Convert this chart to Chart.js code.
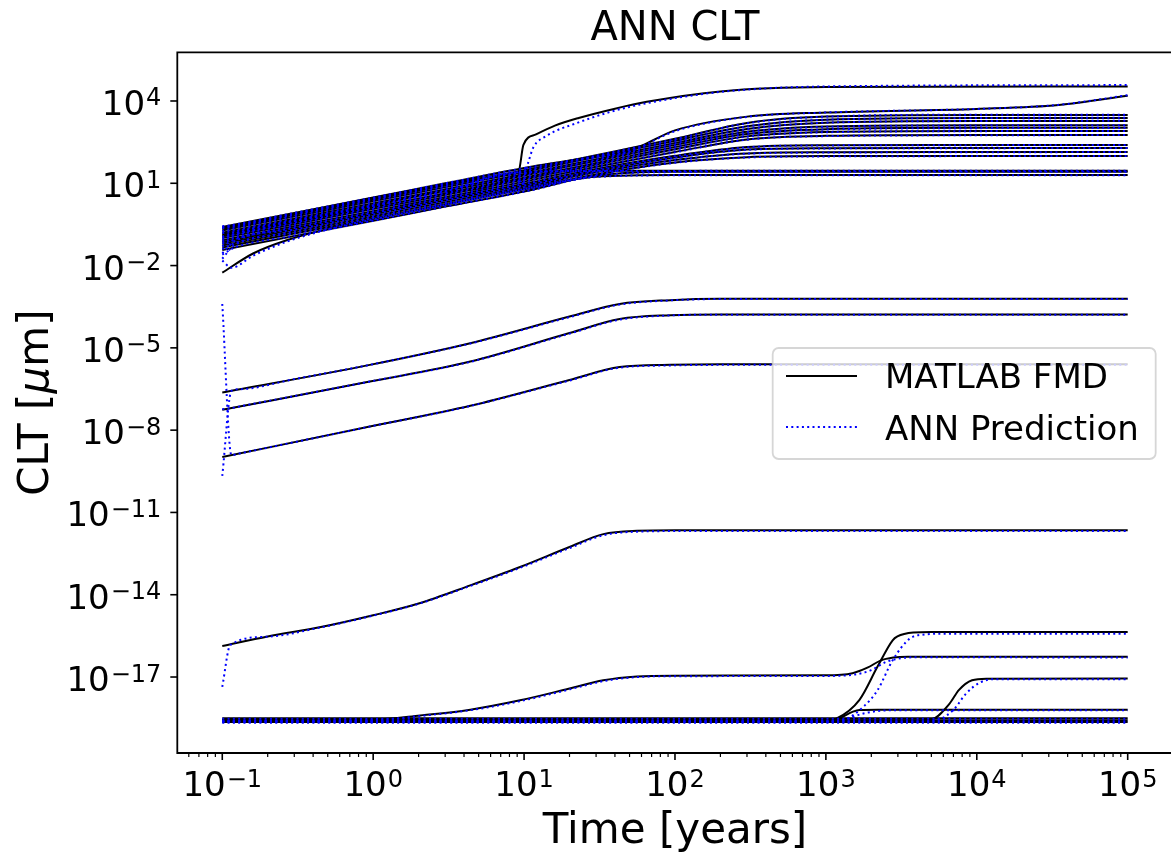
<!DOCTYPE html>
<html>
<head>
<meta charset="utf-8">
<title>ANN CLT</title>
<script src="https://cdn.jsdelivr.net/npm/chart.js@4.4.1/dist/chart.umd.min.js"></script>
<style>
  html, body { margin: 0; padding: 0; background: #fff; }
  #wrap { width: 1171px; height: 855px; }
</style>
</head>
<body>
<div id="wrap"><canvas id="chart"></canvas></div>
<script>
'use strict';

// Axis ticks: powers of ten shown as labels, plus the minor multipliers on the time axis
const xTickExps = [-1, 0, 1, 2, 3, 4, 5];
const xMinorMults = [2, 3, 4, 5, 6, 7, 8, 9];
const yTickExps = [4, 1, -2, -5, -8, -11, -14, -17];

// CLT values are written as log10 exponents (CLT = 10 ** value)

// Upper bundle: times in years
const tTop = [0.1, 0.3, 1, 3, 10, 30, 100, 300, 1000, 1e4, 1e5];
const tTopAnn = [0.1, 0.12, 0.3, 1, 3, 10, 30, 100, 300, 1000, 1e4, 1e5];

const fmdTop1 = [-0.66, -0.15, 0.40, 0.92, 1.48, 2.02, 2.62, 3.20, 3.43, 3.49, 3.49];
const annTop1 = [-0.64, -0.58, -0.14, 0.41, 0.92, 1.47, 2.01, 2.61, 3.19, 3.43, 3.50, 3.50];
const fmdTop2 = [-0.72, -0.21, 0.34, 0.86, 1.42, 1.96, 2.55, 3.08, 3.32, 3.38, 3.38];
const annTop2 = [-0.75, -0.64, -0.21, 0.34, 0.86, 1.41, 1.95, 2.54, 3.07, 3.32, 3.38, 3.39];
const fmdTop3 = [-0.80, -0.29, 0.26, 0.78, 1.34, 1.88, 2.47, 2.98, 3.21, 3.27, 3.27];
const annTop3 = [-0.82, -0.72, -0.29, 0.26, 0.78, 1.33, 1.87, 2.46, 2.97, 3.21, 3.27, 3.28];
const fmdTop4 = [-0.86, -0.35, 0.20, 0.72, 1.28, 1.82, 2.40, 2.88, 3.07, 3.12, 3.12];
const annTop4 = [-0.95, -0.78, -0.35, 0.20, 0.72, 1.27, 1.81, 2.39, 2.87, 3.06, 3.11, 3.12];
const fmdTop5 = [-0.94, -0.43, 0.12, 0.64, 1.20, 1.74, 2.32, 2.80, 2.97, 3.02, 3.02];
const annTop5 = [-0.98, -0.86, -0.43, 0.12, 0.64, 1.19, 1.73, 2.31, 2.79, 2.96, 3.01, 3.02];
const fmdTop6 = [-1.00, -0.49, 0.06, 0.58, 1.14, 1.68, 2.24, 2.71, 2.87, 2.91, 2.91];
const annTop6 = [-1.12, -0.92, -0.49, 0.06, 0.58, 1.13, 1.67, 2.23, 2.70, 2.86, 2.90, 2.91];
const fmdTop7 = [-1.08, -0.57, -0.02, 0.50, 1.06, 1.60, 2.14, 2.60, 2.73, 2.76, 2.76];
const annTop7 = [-1.20, -1.00, -0.57, -0.02, 0.50, 1.05, 1.59, 2.13, 2.59, 2.72, 2.75, 2.76];
const fmdTop8 = [-1.14, -0.63, -0.08, 0.44, 0.98, 1.52, 2.00, 2.32, 2.39, 2.40, 2.40];
const annTop8 = [-1.30, -1.06, -0.63, -0.08, 0.44, 0.97, 1.51, 1.99, 2.31, 2.38, 2.39, 2.40];
const fmdTop9 = [-1.20, -0.69, -0.14, 0.38, 0.92, 1.46, 1.94, 2.23, 2.28, 2.29, 2.29];
const annTop9 = [-1.55, -1.12, -0.69, -0.14, 0.38, 0.91, 1.45, 1.93, 2.22, 2.27, 2.28, 2.29];
const fmdTop10 = [-1.27, -0.76, -0.21, 0.31, 0.86, 1.40, 1.85, 2.09, 2.13, 2.14, 2.14];
const annTop10 = [-1.40, -1.19, -0.76, -0.21, 0.31, 0.85, 1.39, 1.84, 2.08, 2.12, 2.13, 2.14];
const fmdTop11 = [-1.34, -0.83, -0.28, 0.24, 0.78, 1.32, 1.76, 1.95, 1.99, 1.99, 1.99];
const annTop11 = [-1.75, -1.26, -0.83, -0.28, 0.24, 0.77, 1.31, 1.75, 1.94, 1.98, 1.99, 1.99];
const fmdTop12 = [-0.62, -0.11, 0.44, 0.96, 1.40, 1.46, 1.46, 1.46, 1.46, 1.46, 1.46];
const annTop12 = [-0.60, -0.54, -0.11, 0.44, 0.96, 1.39, 1.45, 1.45, 1.46, 1.46, 1.46, 1.46];
const fmdTop13 = [-1.43, -0.92, -0.37, 0.15, 0.70, 1.28, 1.42, 1.42, 1.42, 1.42, 1.42];
const annTop13 = [-1.60, -1.35, -0.92, -0.37, 0.15, 0.69, 1.27, 1.41, 1.42, 1.42, 1.42, 1.42];

// top of the bundle, rising again at the end
const tRise = [0.1, 0.3, 1, 3, 10, 30, 50, 100, 300, 1000, 1e4, 3.5e4, 1e5];
const fmdRise = [-0.59, -0.08, 0.48, 1.00, 1.56, 1.98, 2.18, 2.93, 3.43, 3.58, 3.71, 3.85, 4.19];
const tRiseAnn = [0.1, 0.12, 0.3, 1, 3, 10, 30, 50, 100, 300, 1000, 1e4, 3.5e4, 1e5];
const annRise = [-0.57, -0.51, -0.08, 0.48, 1.00, 1.55, 1.97, 2.16, 2.90, 3.42, 3.58, 3.71, 3.86, 4.21];

// the curve that jumps near 10 years
const tJump = [0.1, 0.3, 1, 3, 9.2, 9.9, 12, 16, 23, 40, 65, 200, 1000, 1e5];
const fmdJump = [-0.90, -0.38, 0.18, 0.70, 1.44, 2.40, 2.78, 3.10, 3.38, 3.72, 3.97, 4.35, 4.51, 4.53];
const tJumpAnn = [0.1, 0.12, 0.3, 1, 3, 9.2, 9.6, 10.7, 11.5, 14, 23, 40, 65, 200, 1000, 1e5];
const annJump = [-1.05, -0.85, -0.38, 0.18, 0.70, 1.40, 0.95, 1.79, 2.30, 2.72, 3.22, 3.65, 3.92, 4.33, 4.53, 4.58];

// the curve that starts low near 1e-2
const tLowStart = [0.1, 0.16, 0.27, 0.54, 1, 3, 10, 30, 100, 1e5];
const fmdLowStart = [-2.26, -1.56, -1.07, -0.62, -0.30, 0.22, 0.80, 1.24, 1.30, 1.30];
const tLowStartAnn = [0.1, 0.115, 0.16, 0.27, 0.54, 1, 3, 10, 30, 100, 1e5];
const annLowStart = [-1.82, -2.08, -1.64, -1.12, -0.64, -0.31, 0.21, 0.79, 1.23, 1.29, 1.29];

// middle group (1e-9 .. 1e-3)
const tMid = [0.1, 0.95, 4.4, 20, 43, 93, 200, 1e5];
const fmdMid1 = [-6.63, -5.62, -4.83, -3.86, -3.40, -3.26, -3.21, -3.21];
const fmdMid2 = [-7.26, -6.23, -5.50, -4.46, -3.95, -3.81, -3.78, -3.78];
const fmdMid3 = [-8.98, -7.87, -7.11, -6.17, -5.70, -5.62, -5.60, -5.60];
const tMidAnn = [0.1, 0.115, 0.13, 0.3, 0.95, 4.4, 20, 43, 93, 200, 1e5];
const annMid1 = [-9.67, -6.57, -6.51, -6.14, -5.62, -4.84, -3.88, -3.42, -3.27, -3.22, -3.22];
const annMid2 = [-7.24, -7.20, -7.14, -6.76, -6.23, -5.51, -4.48, -3.97, -3.82, -3.79, -3.79];
const annMid3 = [-3.40, -8.91, -8.85, -8.44, -7.87, -7.12, -6.19, -5.72, -5.64, -5.62, -5.62];

// lower group
const tD = [0.1, 0.2, 0.45, 1, 2, 4.4, 9.4, 20, 33.5, 56, 100, 1e5];
const fmdD = [-15.87, -15.52, -15.18, -14.75, -14.32, -13.66, -12.99, -12.26, -11.79, -11.67, -11.65, -11.65];
const tDAnn = [0.1, 0.113, 0.2, 0.45, 1, 2, 4.4, 9.4, 20, 33.5, 56, 100, 1e5];
const annD = [-17.36, -15.83, -15.53, -15.19, -14.76, -14.33, -13.68, -13.02, -12.30, -11.83, -11.70, -11.68, -11.68];

const tE = [0.1, 1, 2.05, 4.4, 9.4, 20, 33.5, 56, 100, 1000, 1500, 1900, 2300, 2800, 3500, 1e5];
const fmdE = [-18.58, -18.55, -18.40, -18.19, -17.85, -17.42, -17.12, -16.98, -16.95, -16.94, -16.86, -16.65, -16.40, -16.29, -16.26, -16.26];
const tEAnn = [0.1, 1, 2.05, 4.4, 9.4, 20, 33.5, 56, 100, 1000, 1500, 2000, 2500, 3200, 4000, 1e5];
const annE = [-18.60, -18.57, -18.42, -18.21, -17.88, -17.45, -17.15, -17.00, -16.97, -16.96, -16.92, -16.75, -16.45, -16.31, -16.28, -16.29];

const tF = [0.1, 1000, 1170, 1670, 2200, 2770, 2980, 3800, 5000, 1e5];
const fmdF = [-18.58, -18.58, -18.52, -17.83, -16.62, -15.66, -15.52, -15.38, -15.36, -15.36];
const tFAnn = [0.1, 1000, 1300, 1800, 2200, 2770, 3600, 4500, 6000, 1e5];
const annF = [-18.62, -18.62, -18.57, -18.05, -17.48, -16.39, -15.60, -15.45, -15.42, -15.42];

const tG = [0.1, 1000, 1170, 1500, 1670, 2200, 1e5];
const fmdG = [-18.58, -18.58, -18.55, -18.27, -18.20, -18.19, -18.19];
const tGAnn = [0.1, 1000, 1300, 1800, 2300, 3000, 1e5];
const annG = [-18.62, -18.62, -18.56, -18.32, -18.23, -18.21, -18.21];

const tH = [0.1, 4000, 5000, 6600, 7600, 9300, 11600, 1e5];
const fmdH = [-18.58, -18.58, -18.55, -17.97, -17.48, -17.12, -17.06, -17.05];
const tHAnn = [0.1, 4000, 5500, 7000, 8500, 10500, 13000, 1e5];
const annH = [-18.62, -18.62, -18.56, -18.20, -17.60, -17.20, -17.08, -17.08];

const tFlat = [0.1, 1e5];
const fmdFlat1 = [-18.50, -18.50];
const annFlat1 = [-18.52, -18.52];
const fmdFlat2 = [-18.58, -18.58];
const annFlat2 = [-18.61, -18.61];
const fmdFlat3 = [-18.64, -18.64];
const annFlat3 = [-18.67, -18.67];

// [fmd times, fmd values, ann times, ann values]
const curves = [
  [tRise, fmdRise, tRiseAnn, annRise],
  [tJump, fmdJump, tJumpAnn, annJump],
  [tTop, fmdTop1, tTopAnn, annTop1],
  [tTop, fmdTop2, tTopAnn, annTop2],
  [tTop, fmdTop3, tTopAnn, annTop3],
  [tTop, fmdTop4, tTopAnn, annTop4],
  [tTop, fmdTop5, tTopAnn, annTop5],
  [tTop, fmdTop6, tTopAnn, annTop6],
  [tTop, fmdTop7, tTopAnn, annTop7],
  [tTop, fmdTop8, tTopAnn, annTop8],
  [tTop, fmdTop9, tTopAnn, annTop9],
  [tTop, fmdTop10, tTopAnn, annTop10],
  [tTop, fmdTop11, tTopAnn, annTop11],
  [tTop, fmdTop12, tTopAnn, annTop12],
  [tTop, fmdTop13, tTopAnn, annTop13],
  [tLowStart, fmdLowStart, tLowStartAnn, annLowStart],
  [tMid, fmdMid1, tMidAnn, annMid1],
  [tMid, fmdMid2, tMidAnn, annMid2],
  [tMid, fmdMid3, tMidAnn, annMid3],
  [tD, fmdD, tDAnn, annD],
  [tE, fmdE, tEAnn, annE],
  [tF, fmdF, tFAnn, annF],
  [tG, fmdG, tGAnn, annG],
  [tH, fmdH, tHAnn, annH],
  [tFlat, fmdFlat1, tFlat, annFlat1],
  [tFlat, fmdFlat2, tFlat, annFlat2],
  [tFlat, fmdFlat3, tFlat, annFlat3]
];

const FONT = '"DejaVu Sans", "Liberation Sans", sans-serif';
const FMD_COLOR = '#000000';
const ANN_COLOR = '#0000ff';
const ANN_DASH = [2, 3.3];

function toPoints(times, exps) {
  return times.map((t, i) => ({ x: t, y: Math.pow(10, exps[i]) }));
}

const datasets = [];
curves.forEach(([tf, vf, ta, va], i) => {
  datasets.push({
    label: i === 0 ? 'MATLAB FMD' : '',
    data: toPoints(tf, vf),
    borderColor: FMD_COLOR,
    borderWidth: 2,
    pointRadius: 0,
    fill: false,
    cubicInterpolationMode: 'monotone',
    order: 1
  });
  datasets.push({
    label: i === 0 ? 'ANN Prediction' : '',
    data: toPoints(ta, va),
    borderColor: ANN_COLOR,
    borderWidth: 2,
    borderDash: ANN_DASH,
    pointRadius: 0,
    fill: false,
    cubicInterpolationMode: 'monotone',
    order: 0
  });
});

// "10" with a raised exponent, like matplotlib's log tick labels
function drawPower(ctx, exp, x, baseline, align) {
  const sup = exp < 0 ? '\u2212' + Math.abs(exp) : String(exp);
  ctx.font = '34px ' + FONT;
  const wBase = ctx.measureText('10').width;
  ctx.font = '24px ' + FONT;
  const wSup = ctx.measureText(sup).width;
  const total = wBase + 1 + wSup;
  const x0 = align === 'center' ? x - total / 2 : x - total;
  ctx.textAlign = 'left';
  ctx.textBaseline = 'alphabetic';
  ctx.font = '34px ' + FONT;
  ctx.fillText('10', x0, baseline);
  ctx.font = '24px ' + FONT;
  ctx.fillText(sup, x0 + wBase + 1, baseline - 9.5);
}

function roundRectPath(ctx, x, y, w, h, r) {
  ctx.beginPath();
  ctx.moveTo(x + r, y);
  ctx.arcTo(x + w, y, x + w, y + h, r);
  ctx.arcTo(x + w, y + h, x, y + h, r);
  ctx.arcTo(x, y + h, x, y, r);
  ctx.arcTo(x, y, x + w, y, r);
  ctx.closePath();
}

const axesPlugin = {
  id: 'mplAxes',
  afterDraw(chart) {
    const { ctx, chartArea: a, scales: { x, y } } = chart;
    ctx.save();
    ctx.fillStyle = '#000';
    ctx.strokeStyle = '#000';

    // spines (right one falls just outside the picture)
    ctx.lineWidth = 1.8;
    ctx.beginPath();
    ctx.moveTo(chart.width, a.top);
    ctx.lineTo(a.left, a.top);
    ctx.lineTo(a.left, a.bottom);
    ctx.lineTo(chart.width, a.bottom);
    ctx.stroke();

    // x ticks
    ctx.lineWidth = 1.2;
    for (let e = -2; e <= 5; e++) {
      xMinorMults.forEach(m => {
        const v = m * Math.pow(10, e);
        if (v <= x.min || v >= x.max) return;
        const px = x.getPixelForValue(v);
        ctx.beginPath();
        ctx.moveTo(px, a.bottom);
        ctx.lineTo(px, a.bottom + 4);
        ctx.stroke();
      });
    }
    ctx.lineWidth = 1.6;
    xTickExps.forEach(e => {
      const px = x.getPixelForValue(Math.pow(10, e));
      ctx.beginPath();
      ctx.moveTo(px, a.bottom);
      ctx.lineTo(px, a.bottom + 7);
      ctx.stroke();
      drawPower(ctx, e, px, a.bottom + 43, 'center');
    });

    // y ticks
    yTickExps.forEach(e => {
      const py = y.getPixelForValue(Math.pow(10, e));
      ctx.beginPath();
      ctx.moveTo(a.left, py);
      ctx.lineTo(a.left - 7, py);
      ctx.stroke();
      drawPower(ctx, e, a.left - 16, py + 14, 'right');
    });

    // title and axis titles
    const cx = (a.left + 1172.7) / 2;
    ctx.textAlign = 'center';
    ctx.textBaseline = 'alphabetic';
    ctx.font = '40px ' + FONT;
    ctx.fillText('ANN CLT', cx, 39.5);
    ctx.font = '42px ' + FONT;
    ctx.fillText('Time [years]', cx, 843);

    // y title with italic mu
    const parts = [['CLT [', '42px ' + FONT], ['\u03bc', 'italic 42px ' + FONT], ['m]', '42px ' + FONT]];
    let totalW = 0;
    parts.forEach(p => { ctx.font = p[1]; totalW += ctx.measureText(p[0]).width; });
    ctx.save();
    ctx.translate(48, (a.top + a.bottom) / 2);
    ctx.rotate(-Math.PI / 2);
    ctx.textAlign = 'left';
    let tx = -totalW / 2;
    parts.forEach(p => {
      ctx.font = p[1];
      ctx.fillText(p[0], tx, 0);
      tx += ctx.measureText(p[0]).width;
    });
    ctx.restore();

    // legend
    roundRectPath(ctx, 772.7, 348, 383, 111, 6);
    ctx.fillStyle = 'rgba(255,255,255,0.8)';
    ctx.fill();
    ctx.strokeStyle = 'rgba(204,204,204,0.8)';
    ctx.lineWidth = 1.8;
    ctx.stroke();

    ctx.lineWidth = 2;
    ctx.strokeStyle = FMD_COLOR;
    ctx.beginPath();
    ctx.moveTo(786, 376);
    ctx.lineTo(857, 376);
    ctx.stroke();
    ctx.strokeStyle = ANN_COLOR;
    ctx.setLineDash(ANN_DASH);
    ctx.beginPath();
    ctx.moveTo(786, 427);
    ctx.lineTo(857, 427);
    ctx.stroke();
    ctx.setLineDash([]);

    ctx.fillStyle = '#000';
    ctx.textAlign = 'left';
    ctx.font = '34px ' + FONT;
    ctx.fillText('MATLAB FMD', 885, 388);
    ctx.fillText('ANN Prediction', 885, 440);
    ctx.restore();
  }
};

const config = {
  type: 'line',
  data: { datasets: datasets },
  options: {
    responsive: true,
    maintainAspectRatio: false,
    animation: false,
    layout: {
      autoPadding: false,
      padding: { left: 177.3, top: 52.3, right: 0, bottom: 102 }
    },
    plugins: {
      legend: { display: false },
      title: { display: false },
      tooltip: { enabled: false }
    },
    scales: {
      x: {
        type: 'logarithmic',
        display: false,
        bounds: 'data',
        min: Math.pow(10, -1.298),
        max: Math.pow(10, 5.287)
      },
      y: {
        type: 'logarithmic',
        display: false,
        bounds: 'data',
        min: Math.pow(10, -19.77),
        max: Math.pow(10, 5.775)
      }
    }
  },
  plugins: [axesPlugin]
};

const canvasElem = document.getElementById('chart');
const myChart = new Chart(canvasElem, config);
</script>
</body>
</html>
